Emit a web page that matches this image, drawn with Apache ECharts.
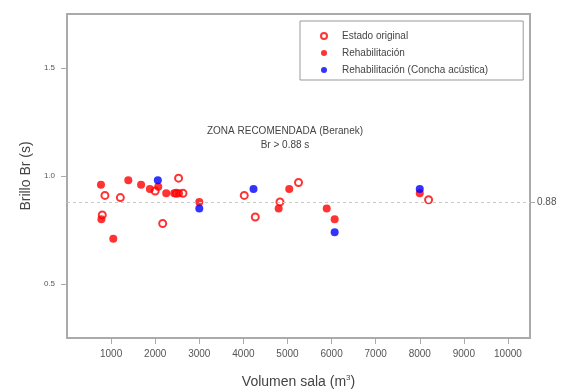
<!DOCTYPE html>
<html>
<head>
<meta charset="utf-8">
<script src="https://cdn.jsdelivr.net/npm/echarts@6/dist/echarts.min.js"></script>
<style>
  html, body { margin: 0; padding: 0; background: #fff; }
  #chart { width: 561px; height: 392px; }
</style>
</head>
<body>
<div id="chart"></div>
<script>
// Brillo (Br) frente al volumen de sala
const xTicks = [1000, 2000, 3000, 4000, 5000, 6000, 7000, 8000, 9000, 10000];
const yTicks = [0.5, 1.0, 1.5];
const umbralBr = 0.88;

// [volumen m3, Br s]
const estadoOriginal = [
  [800, 0.82], [860, 0.91], [1210, 0.90], [2000, 0.93], [2170, 0.78],
  [2480, 0.92], [2530, 0.99], [2630, 0.92], [4020, 0.91], [4270, 0.81],
  [4830, 0.88], [5250, 0.97], [8200, 0.89]
];
const rehabilitacion = [
  [770, 0.96], [780, 0.80], [1050, 0.71], [1390, 0.98], [1680, 0.96],
  [1880, 0.94], [2070, 0.95], [2250, 0.92], [2430, 0.92], [2540, 0.92],
  [3000, 0.88], [4800, 0.85], [5040, 0.94], [5890, 0.85], [6070, 0.80],
  [8000, 0.92]
];
const conchaAcustica = [
  [2060, 0.98], [3000, 0.85], [4230, 0.94], [6070, 0.74], [8000, 0.94]
];

const FONT = '"Liberation Sans", Arial, sans-serif';
const AXIS_COLOR = '#aaa';
const TEXT_COLOR = '#555';

const chart = echarts.init(document.getElementById('chart'), null, { renderer: 'canvas' });

chart.setOption({
  animation: false,
  backgroundColor: '#fff',
  textStyle: { fontFamily: FONT },
  grid: { left: 67, right: 31, top: 14, bottom: 54, containLabel: false, outerBoundsMode: 'none' },
  legend: {
    orient: 'vertical',
    left: 300,
    top: 21,
    padding: [9, 35, 4, 20],
    itemGap: 5,
    itemWidth: 6,
    itemHeight: 6,
    borderColor: '#999',
    borderWidth: 1,
    textStyle: { fontFamily: FONT, fontSize: 10, color: '#444', lineHeight: 12, padding: [0, 0, 0, 10] },
    data: [
      { name: 'Estado original', icon: 'emptyCircle' },
      { name: 'Rehabilitación', icon: 'circle' },
      { name: 'Rehabilitación (Concha acústica)', icon: 'circle' }
    ]
  },
  xAxis: [{
    type: 'value',
    min: 0,
    max: 10500,
    splitLine: { show: false },
    axisLine: { show: true, onZero: false, lineStyle: { color: AXIS_COLOR, width: 2 } },
    axisTick: { show: true, length: 6, customValues: xTicks, lineStyle: { color: AXIS_COLOR, width: 1 } },
    axisLabel: {
      customValues: xTicks, fontSize: 10, color: TEXT_COLOR, margin: 11, fontFamily: FONT,
      formatter: v => String(v)
    },
    name: 'Volumen sala (m{sup|3})',
    nameLocation: 'middle',
    nameGap: 36,
    nameTextStyle: {
      fontSize: 14, color: '#444', fontFamily: FONT,
      rich: { sup: { fontSize: 8, color: '#444', verticalAlign: 'top', padding: [0, 0, 8, 0] } }
    }
  }, {
    type: 'value',
    position: 'top',
    min: 0,
    max: 10500,
    splitLine: { show: false },
    axisLine: { show: true, onZero: false, lineStyle: { color: AXIS_COLOR, width: 2 } },
    axisTick: { show: false },
    axisLabel: { show: false }
  }],
  yAxis: [{
    type: 'value',
    min: 0.25,
    max: 1.75,
    splitLine: { show: false },
    axisLine: { show: true, onZero: false, lineStyle: { color: AXIS_COLOR, width: 2 } },
    axisTick: { show: true, length: 6, customValues: yTicks, lineStyle: { color: AXIS_COLOR, width: 1 } },
    axisLabel: {
      customValues: yTicks, fontSize: 8, color: TEXT_COLOR, margin: 12, fontFamily: FONT,
      formatter: v => v.toFixed(1)
    },
    name: 'Brillo Br (s)',
    nameLocation: 'middle',
    nameGap: 34,
    nameTextStyle: { fontSize: 14, color: '#444', fontFamily: FONT }
  }, {
    type: 'value',
    position: 'right',
    min: 0.25,
    max: 1.75,
    splitLine: { show: false },
    axisLine: { show: true, onZero: false, lineStyle: { color: AXIS_COLOR, width: 2 } },
    axisTick: { show: true, length: 5, customValues: [umbralBr], lineStyle: { color: AXIS_COLOR, width: 1 } },
    axisLabel: {
      customValues: [umbralBr], fontSize: 10, color: TEXT_COLOR, margin: 7, fontFamily: FONT,
      formatter: v => v.toFixed(2)
    }
  }],
  graphic: [{
    type: 'text',
    x: 285,
    y: 124,
    style: {
      text: 'ZONA RECOMENDADA (Beranek)\nBr > 0.88 s',
      align: 'center',
      fontSize: 10,
      lineHeight: 14,
      fill: '#444',
      fontFamily: FONT
    }
  }],
  series: [{
    name: 'Estado original',
    type: 'scatter',
    data: estadoOriginal,
    symbol: 'emptyCircle',
    symbolSize: 7,
    itemStyle: { color: '#ff0000', borderColor: '#ff0000', borderWidth: 1 },
    markLine: {
      silent: true,
      symbol: 'none',
      label: { show: false },
      lineStyle: { color: '#c8c8c8', type: [3, 3], width: 1 },
      data: [{ yAxis: umbralBr }]
    },
    z: 2
  }, {
    name: 'Rehabilitación',
    type: 'scatter',
    data: rehabilitacion,
    symbol: 'circle',
    symbolSize: 8,
    itemStyle: { color: '#ff0000' },
    z: 3
  }, {
    name: 'Rehabilitación (Concha acústica)',
    type: 'scatter',
    data: conchaAcustica,
    symbol: 'circle',
    symbolSize: 8,
    itemStyle: { color: '#0000ff' },
    z: 4
  }]
});
</script>
</body>
</html>
